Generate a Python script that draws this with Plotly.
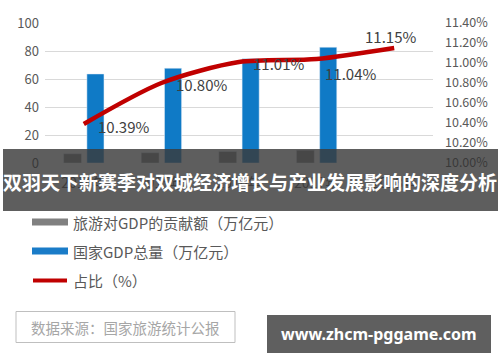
import plotly.graph_objects as go

# ---- data ----
years = ["2014年", "2015年", "2016年", "2017年", "2018年"]
tourism_gdp = [6.61, 7.34, 8.19, 9.13, None]      # 旅游对GDP的贡献额（万亿元）
national_gdp = [63.6, 67.7, 74.4, 82.7, None]     # 国家GDP总量（万亿元）
share_pct = [10.39, 10.80, 11.01, 11.04, 11.15]   # 占比（%）
share_labels = ["10.39%", "10.80%", "11.01%", "11.04%", "11.15%"]
left_ticks = [0, 20, 40, 60, 80, 100]
right_ticks = [10.0, 10.2, 10.4, 10.6, 10.8, 11.0, 11.2, 11.4]
legend_names = ["旅游对GDP的贡献额（万亿元）", "国家GDP总量（万亿元）", "占比（%）"]
title_text = "双羽天下新赛季对双城经济增长与产业发展影响的深度分析"
source_text = "数据来源：国家旅游统计公报"
site_text = "www.zhcm-pggame.com"

# ---- layout geometry (pixels) ----
W, H = 500, 362
PL, PR, PT, PB = 45, 433, 23, 163
FONT = "Noto Sans CJK SC"

def px(x):
    return (x - PL) / (PR - PL)

def py(y):
    return (PB - y) / (PB - PT)

def tick_text(vals, fmt, under_color="#333333"):
    out = []
    for i, v in enumerate(vals):
        s = fmt(v)
        if i == 0:
            s = "<span style='color:%s'>%s</span>" % (under_color, s)
        out.append(s)
    return out

fig = go.Figure()
fig.add_trace(go.Bar(x=years, y=tourism_gdp, marker_color="#7f7f7f",
                     width=0.23, offset=-0.26, name=legend_names[0],
                     showlegend=False))
fig.add_trace(go.Bar(x=years, y=national_gdp, marker_color="#0f7ac6",
                     width=0.22, offset=0.04, name=legend_names[1],
                     showlegend=False))
fig.add_trace(go.Scatter(x=years, y=share_pct, yaxis="y2", mode="lines",
                         line=dict(color="#c00000", width=4.5, shape="spline",
                                   smoothing=0.8),
                         name=legend_names[2], showlegend=False))

label_shift = [(40, -2), (40, -1), (39, -1), (34, -14), (-4, 12)]
annotations = []
for xv, yv, t, (dx, dy) in zip(years, share_pct, share_labels, label_shift):
    annotations.append(dict(x=xv, y=yv, xref="x", yref="y2", text=t,
                            showarrow=False, xshift=dx, yshift=dy,
                            xanchor="center", yanchor="middle",
                            font=dict(family=FONT, size=15, color="#404040")))

def note(x, y, text, size, color, anchor="center", family=FONT):
    return dict(x=px(x), y=py(y), xref="paper", yref="paper", text=text,
                showarrow=False, xanchor=anchor, yanchor="middle",
                font=dict(family=family, size=size, color=color))

shapes = []
# banner
shapes.append(dict(type="rect", xref="paper", yref="paper",
                   x0=px(3), x1=px(498), y0=py(149), y1=py(211),
                   fillcolor="rgba(58,58,58,0.82)", line=dict(width=0), layer="above"))
annotations.append(note(250, 181, "<b>" + title_text + "</b>", 19, "white"))
# legend
leg_y = [222, 251, 280]
shapes.append(dict(type="rect", xref="paper", yref="paper", x0=px(32), x1=px(68),
                   y0=py(218.5), y1=py(225.5), fillcolor="#808080", line=dict(width=0)))
shapes.append(dict(type="rect", xref="paper", yref="paper", x0=px(32), x1=px(68),
                   y0=py(247.5), y1=py(254.5), fillcolor="#1a7cc8", line=dict(width=0)))
shapes.append(dict(type="line", xref="paper", yref="paper", x0=px(33), x1=px(67),
                   y0=py(280.5), y1=py(280.5), line=dict(color="#c00000", width=4)))
for name, yy in zip(legend_names, leg_y):
    annotations.append(note(71, yy, name, 15, "#595959", anchor="left"))
# source box
shapes.append(dict(type="rect", xref="paper", yref="paper", x0=px(16), x1=px(235),
                   y0=py(311.5), y1=py(342.5), fillcolor="white",
                   line=dict(color="#bfbfbf", width=1)))
annotations.append(note(125, 327, source_text, 14.5, "#a6a6a6"))
# site box
shapes.append(dict(type="rect", xref="paper", yref="paper", x0=px(267), x1=px(491),
                   y0=py(315), y1=py(353), fillcolor="#5f5f5f", line=dict(width=0)))
annotations.append(note(379, 334, "<b>" + site_text + "</b>", 16, "white",
                        family="Noto Sans"))

fig.update_layout(
    width=W, height=H,
    margin=dict(l=PL, r=W - PR, t=PT, b=H - PB, pad=0),
    paper_bgcolor="white", plot_bgcolor="white",
    barmode="overlay",
    showlegend=False,
    font=dict(family=FONT, size=13, color="#595959"),
    xaxis=dict(showgrid=False, showline=False, zeroline=False, ticks="",
               tickfont=dict(size=14, color="#4a4a4a"), ticklabelstandoff=10,
               fixedrange=True),
    yaxis=dict(range=[0, 100], tickvals=left_ticks,
               ticktext=tick_text(left_ticks, lambda v: str(v)),
               showgrid=True, gridcolor="#d9d9d9", gridwidth=1, zeroline=False,
               showline=False, ticks="", ticklabelstandoff=5,
               tickfont=dict(size=13, color="#595959")),
    yaxis2=dict(range=[10.0, 11.4], tickvals=right_ticks,
                ticktext=tick_text(right_ticks, lambda v: "%.2f%%" % v),
                overlaying="y", side="right", showgrid=False, zeroline=False,
                showline=False, ticks="", ticklabelstandoff=11,
                tickfont=dict(size=12.5, color="#595959")),
    shapes=shapes,
    annotations=annotations,
)

fig.write_html("out.html", config={"displayModeBar": False})
